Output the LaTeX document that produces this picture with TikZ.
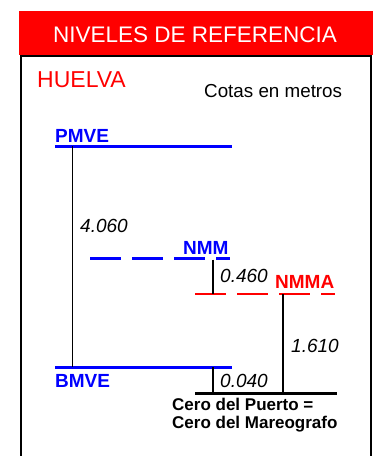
\documentclass[tikz,border=0pt]{standalone}
\usepackage{fontspec}
\setmainfont{Liberation Sans}
\usetikzlibrary{positioning}
\definecolor{refred}{RGB}{255,0,0}
\definecolor{refblue}{RGB}{0,0,255}

\begin{document}
\begin{tikzpicture}[x=1pt, y=-1pt, node distance=4pt,
		lbl/.style={inner sep=0pt, anchor=base west},
		cota/.style={lbl, font=\fontsize{19}{19}\selectfont\itshape},
		nivname/.style={lbl, font=\fontsize{19}{19}\selectfont\bfseries},
		nivline/.style={line width=3pt},
		nivdash/.style={line width=2.4pt, dash pattern=on 31pt off 11pt},
		vline/.style={line width=1.7pt}]
				\useasboundingbox (0,0) rectangle (373,456);
				% frame and header
				\draw[line width=1.6pt] (21,460) -- (21,56) -- (371,56) -- (371,460);
				\fill[refred] (19,11) rectangle (373,55);
				\node (title) [inner sep=0pt, anchor=base, text=white, font=\fontsize{22.5}{22.5}\selectfont] at (195,42) {NIVELES DE REFERENCIA};
				\node (huelva) [lbl, text=refred, font=\fontsize{23}{23}\selectfont] at (37,87.5) {HUELVA};
				\node (cotas) [lbl, font=\fontsize{18.8}{18.8}\selectfont] at (204,97) {Cotas en metros};
				% levels
				\coordinate (pmve_w) at (55,146);
				\coordinate (pmve_e) at (232,146);
				\coordinate (bmve_w) at (55,367);
				\coordinate (bmve_e) at (232,367);
				\coordinate (nmm_w) at (90,258.5);
				\coordinate (nmm_e) at (230,258.5);
				\coordinate (nmma_w) at (195,294);
				\coordinate (nmma_e) at (335,294);
				\coordinate (cero_w) at (195,393);
				\coordinate (cero_e) at (337,393);
				\draw[nivline, refblue] (pmve_w) -- (pmve_e);
				\draw[nivline, refblue] (bmve_w) -- (bmve_e);
				\draw[nivdash, refblue] (nmm_w) -- (nmm_e);
				\draw[nivdash, refred] (nmma_w) -- (nmma_e);
				\draw[nivline, black] (cero_w) -- (cero_e);
				% heights
				\draw[vline] (72.5,146) -- (72.5,367);
				\draw[vline] (213,259.5) -- (213,294);
				\draw[vline] (283,294) -- (283,393);
				\draw[vline] (213,367) -- (213,393);
				% labels
				\node (pmve) [nivname, text=refblue] at (55,142) {PMVE};
				\node (bmve) [nivname, text=refblue] at (55,387) {BMVE};
				\node (nmm) [nivname, text=refblue] at (183,254.5) {NMM};
				\node (nmma) [nivname, text=refred] at (275,288) {NMMA};
				\node (c4060) [cota] at (80,232) {4.060};
				\node (c0460) [cota] at (220,282) {0.460};
				\node (c1610) [cota] at (291,352) {1.610};
				\node (c0040) [cota] at (220,387) {0.040};
				\node (cero_puerto) [lbl, font=\fontsize{17}{17}\selectfont\bfseries] at (172,410) {Cero del Puerto =};
				\node (cero_mareo) [lbl, font=\fontsize{17}{17}\selectfont\bfseries, below=18pt of cero_puerto.base west, anchor=base west] {Cero del Mareografo};
			\end{tikzpicture}
\end{document}
